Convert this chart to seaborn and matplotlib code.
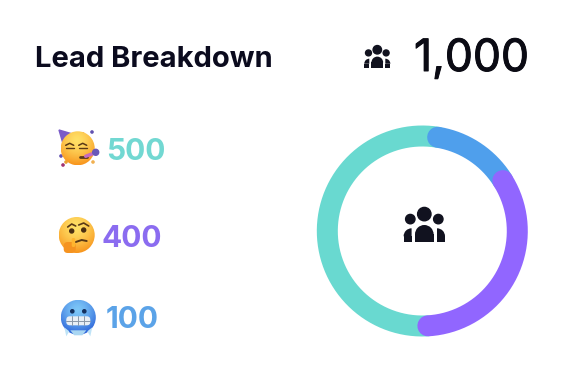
import numpy as np
import seaborn as sns
import matplotlib.pyplot as plt
import matplotlib.patheffects as pe
from matplotlib.patches import Circle, Polygon, FancyBboxPatch, Wedge

# data
title = "Lead Breakdown"
total_label = "1,000"
counts = [500, 100, 400]
count_labels = ["500", "100", "400"]
colors = ["#69D9D0", "#4F9FEC", "#9166FF"]
text_colors = ["#72D8D2", "#5BA3E8", "#8B6CF0"]
dark = "#11121F"

sns.set_theme(style="white")
plt.rcParams["font.family"] = ["Inter", "DejaVu Sans"]

fig = plt.figure(figsize=(5.74, 3.84), dpi=100, facecolor="white")

# donut, polar axes placed in pixels
cx, cy = 422.3, 231
rmax = 110
pol = fig.add_axes([(cx - rmax) / 574, 1 - (cy + rmax) / 384, 2 * rmax / 574, 2 * rmax / 384], projection="polar")

ring_r = 95
ring_w = 21
cap = np.degrees(ring_w / 2 / ring_r)
start = 80.7
total = sum(counts)
# round ends overlap the neighbour, so spans are trimmed or stretched by the cap
teal_span = counts[0] / total * 360 + 2 * cap
blue_span = counts[1] / total * 360 + 2 * cap
purple_span = counts[2] / total * 360 - 4 * cap
arcs = [(start, start + teal_span, colors[0]),
        (start, start - blue_span, colors[1]),
        (start - blue_span, start - blue_span - purple_span, colors[2])]
for a, b, c in arcs:
    th = np.radians(np.linspace(a, b, 200))
    sns.lineplot(x=th, y=np.full(200, ring_r), ax=pol, color=c, lw=ring_w * 0.72,
                 sort=False, errorbar=None, solid_capstyle="round")
pol.set_ylim(0, rmax)
pol.axis("off")

# overlay in pixel coords for text and icons
ov = fig.add_axes([0, 0, 1, 1])
ov.set_xlim(0, 574)
ov.set_ylim(384, 0)
ov.axis("off")
ov.patch.set_alpha(0)


def people(x, y, s):
    ov.add_patch(Circle((x, y - 10.7 * s), 6.7 * s, color=dark))
    ov.add_patch(Circle((x - 14 * s, y - 5.7 * s), 4.7 * s, color=dark))
    ov.add_patch(Circle((x + 14 * s, y - 5.7 * s), 4.7 * s, color=dark))
    # middle body
    ov.add_patch(Wedge((x, y + 9.5 * s), 9.3 * s, 180, 360, color=dark, lw=0))
    ov.add_patch(Polygon([(x - 9.3 * s, y + 9.4 * s), (x + 9.3 * s, y + 9.4 * s), (x + 9.3 * s, y + 17.5 * s), (x - 9.3 * s, y + 17.5 * s)], color=dark, lw=0))
    # side bodies
    for sgn, a1, a2 in [(-1, 180, 270), (1, 270, 360)]:
        ov.add_patch(Wedge((x + sgn * 12.7 * s, y + 11.5 * s), 8 * s, a1, a2, color=dark, lw=0))
        ov.add_patch(Polygon([(x + sgn * 20.7 * s, y + 11.4 * s), (x + sgn * 12.7 * s, y + 11.4 * s), (x + sgn * 12.7 * s, y + 17.5 * s), (x + sgn * 20.7 * s, y + 17.5 * s)], color=dark, lw=0))


def ball(x, y, r, inner, outer):
    # radial gradient disc
    g = np.linspace(-1, 1, 80)
    xx, yy = np.meshgrid(g, g)
    d = np.clip(np.hypot(xx + 0.05, yy + 0.45) / 1.45, 0, 1)[..., None] ** 1.5
    rgb = np.array(plt.matplotlib.colors.to_rgb(inner)) * (1 - d) + np.array(plt.matplotlib.colors.to_rgb(outer)) * d
    im = ov.imshow(rgb, extent=(x - r, x + r, y + r, y - r), aspect="auto", zorder=3, interpolation="bilinear")
    im.set_clip_path(Circle((x, y), r, transform=ov.transData))


# party face
px, py = 77.7, 148.3
ov.add_patch(Polygon([(59, 130), (76, 135), (64, 147)], color="#7A5CC8", zorder=2))
ball(px, py, 17, "#FFE066", "#F8951D")
for dx in (-8, 5):
    ov.plot([px + dx - 4, px + dx, px + dx + 4], [py - 3, py - 5, py - 3], color="#5B3A16", lw=1.1, zorder=4)
    ov.plot([px + dx - 4, px + dx + 4], [py, py], color="#5B3A16", lw=1, zorder=4)
ov.plot([px + 2, px + 9], [py + 9, py + 9], color="#5B3A16", lw=2, zorder=4)
ov.plot([px + 8, px + 16], [py + 8, py + 5], color="#C56AC0", lw=2.5, zorder=5)
ov.add_patch(Circle((px + 18, py + 4), 3, color="#6A58B8", zorder=5))
for a, b, c in [(63, 165, "#A03070"), (92, 132, "#6050B0"), (61, 156, "#6050B0"), (93, 162, "#F0B050"), (83, 134, "#F09030"), (66, 162, "#E8A030")]:
    ov.add_patch(Circle((a, b), 1.1, color=c, zorder=2))

# thinking face
tx, ty = 76.7, 235
ball(tx, ty, 18, "#FFE066", "#F8951D")
ov.plot([tx - 9, tx - 5, tx - 1], [ty - 8, ty - 11, ty - 9], color="#5B3A16", lw=1.2, zorder=4)
ov.plot([tx + 2, tx + 7, tx + 12], [ty - 10, ty - 12, ty - 9], color="#5B3A16", lw=1.2, zorder=4)
ov.add_patch(Circle((tx - 5, ty - 4), 2, color="#4A2E12", zorder=4))
ov.add_patch(Circle((tx + 7, ty - 5), 2, color="#4A2E12", zorder=4))
ov.plot([tx - 1, tx + 5, tx + 10], [ty + 7, ty + 5, ty + 6], color="#5B3A16", lw=1.4, zorder=4)
ov.add_patch(FancyBboxPatch((tx - 13, ty + 7), 12, 11, boxstyle="round,pad=0,rounding_size=4", color="#F59320", lw=0, zorder=5))
ov.add_patch(FancyBboxPatch((tx - 5, ty + 3), 3.5, 9, boxstyle="round,pad=0,rounding_size=1.5", color="#FFB52E", lw=0, zorder=5))

# cold face
fx, fy = 78.3, 317.3
ball(fx, fy, 17.5, "#7CC6F7", "#2A60D8")
ov.add_patch(Circle((fx - 6, fy - 6), 1.6, color="#14305E", zorder=4))
ov.add_patch(Circle((fx + 6, fy - 6), 1.6, color="#14305E", zorder=4))
ov.add_patch(FancyBboxPatch((fx - 12, fy - 1), 24, 9, boxstyle="round,pad=0,rounding_size=3.5", color="#E8EEF5", lw=0, zorder=4))
for dx in (-6, 0, 6):
    ov.plot([fx + dx, fx + dx], [fy - 1, fy + 8], color="#8A97A8", lw=0.7, zorder=5)
ov.plot([fx - 12, fx + 12], [fy + 3.5, fy + 3.5], color="#8A97A8", lw=0.7, zorder=5)
ov.add_patch(Polygon([(fx - 14, fy + 10), (fx - 9, fy + 14), (fx - 12, fy + 19)], color="#BFE3F7", zorder=5, lw=0))
ov.add_patch(Polygon([(fx + 14, fy + 10), (fx + 9, fy + 14), (fx + 12, fy + 19)], color="#BFE3F7", zorder=5, lw=0))
ov.add_patch(Polygon([(fx - 8, fy + 13), (fx + 8, fy + 13), (fx + 4, fy + 18), (fx - 4, fy + 18)], color="#A9D6F2", zorder=5, lw=0))

ov.set_xlim(0, 574)
ov.set_ylim(384, 0)

# texts
ov.text(35, 59.5, title, fontsize=21, fontweight="bold", color="#0B0B1E", va="center", ha="left")
t = ov.text(414, 59, total_label, fontsize=32, color="#0B0B14", va="center", ha="left")
t.set_path_effects([pe.withStroke(linewidth=0.7, foreground="#0B0B14")])
ov.text(106, 152, count_labels[0], fontsize=21.5, fontweight="bold", color=text_colors[0], va="center")
ov.text(101.5, 239, count_labels[2], fontsize=21.5, fontweight="bold", color=text_colors[2], va="center")
ov.text(105.5, 320.5, count_labels[1], fontsize=21.5, fontweight="bold", color=text_colors[1], va="center")

people(424.3, 224.8, 1.0)
people(377.3, 56.5, 0.63)

fig.savefig("out.png", dpi=100)
